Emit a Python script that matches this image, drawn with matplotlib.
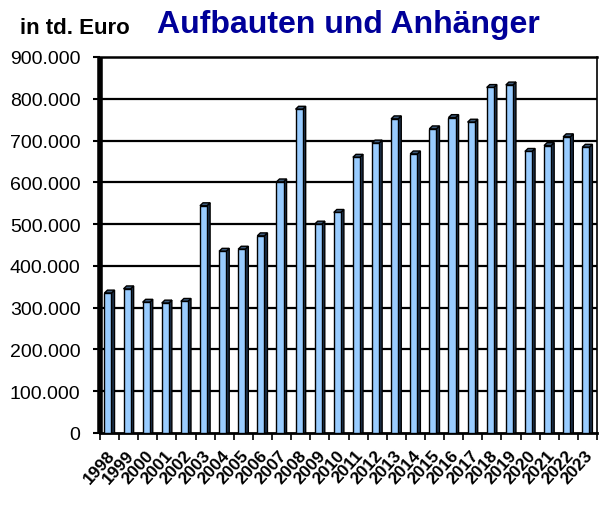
import matplotlib
matplotlib.use("Agg")
import matplotlib.pyplot as plt
from matplotlib.patches import Polygon
from matplotlib.ticker import FuncFormatter
from matplotlib.transforms import ScaledTranslation

plt.rcParams["font.family"] = ["Liberation Sans", "DejaVu Sans"]

years = [str(y) for y in range(1998, 2024)]
values = [335000, 345000, 313000, 311000, 315000, 544000, 435000, 440000, 472000,
          601000, 775000, 500000, 528000, 660000, 694000, 752000, 668000, 728000,
          755000, 744000, 827000, 833000, 674000, 688000, 709000, 684000]

FRONT = "#99ccff"
SIDE = "#1f3550"
TOP = "#3d5a7a"

fig = plt.figure(figsize=(6.03, 5.06), dpi=100)
ax = fig.add_axes([100 / 603, 1 - 434 / 506, 497 / 603, 376 / 506])

n = len(values)
centers = [i + 0.5 for i in range(n)]
w = 0.37
dx = 0.16
dy = 7000

for gy in range(100000, 900000, 100000):
    ax.axhline(gy, color="black", linewidth=1.6, zorder=1)

for c, v in zip(centers, values):
    x0 = c - 0.27
    x1 = x0 + w
    ax.add_patch(Polygon([(x1, 0), (x1 + dx, 0), (x1 + dx, v + dy), (x1, v)],
                         closed=True, facecolor=SIDE, edgecolor="black",
                         linewidth=1.0, zorder=3))
    ax.add_patch(Polygon([(x0, v), (x1, v), (x1 + dx, v + dy), (x0 + dx, v + dy)],
                         closed=True, facecolor=TOP, edgecolor="black",
                         linewidth=1.0, zorder=3))
ax.bar([c - 0.27 for c in centers], values, width=w, align="edge",
       color=FRONT, edgecolor="black", linewidth=1.0, zorder=4)

ax.set_xlim(0, n)
ax.set_ylim(0, 900000)
ax.set_yticks(range(0, 900001, 100000))
ax.yaxis.set_major_formatter(FuncFormatter(
    lambda v, p: "0" if v == 0 else f"{int(v):,}".replace(",", ".")))
ax.tick_params(axis="y", labelsize=14, length=5, width=1.5, pad=9)

ax.set_xticks(range(0, n + 1))
ax.set_xticklabels([])
ax.set_xticks(centers, minor=True)
ax.set_xticklabels(years, minor=True, rotation=48, ha="right",
                   fontsize=12.5, fontweight="bold")
ax.tick_params(axis="x", which="major", length=5, width=1.2)
ax.tick_params(axis="x", which="minor", length=0, pad=10)
offset = ScaledTranslation(6 / 72, 0, fig.dpi_scale_trans)
for lab in ax.get_xticklabels(minor=True):
    lab.set_transform(lab.get_transform() + offset)

ax.spines["left"].set_linewidth(4)
ax.spines["left"].set_capstyle("butt")
ax.spines["bottom"].set_linewidth(2)
ax.spines["top"].set_linewidth(1.8)
ax.spines["right"].set_linewidth(1.2)

fig.text(20 / 603, 1 - 34 / 506, "in td. Euro", fontsize=16, fontweight="bold",
         color="black", ha="left", va="baseline")
fig.text(157 / 603, 1 - 33 / 506, "Aufbauten und Anhänger", fontsize=23,
         fontweight="bold", color="#000099", ha="left", va="baseline")

fig.savefig("out.png", dpi=100)
